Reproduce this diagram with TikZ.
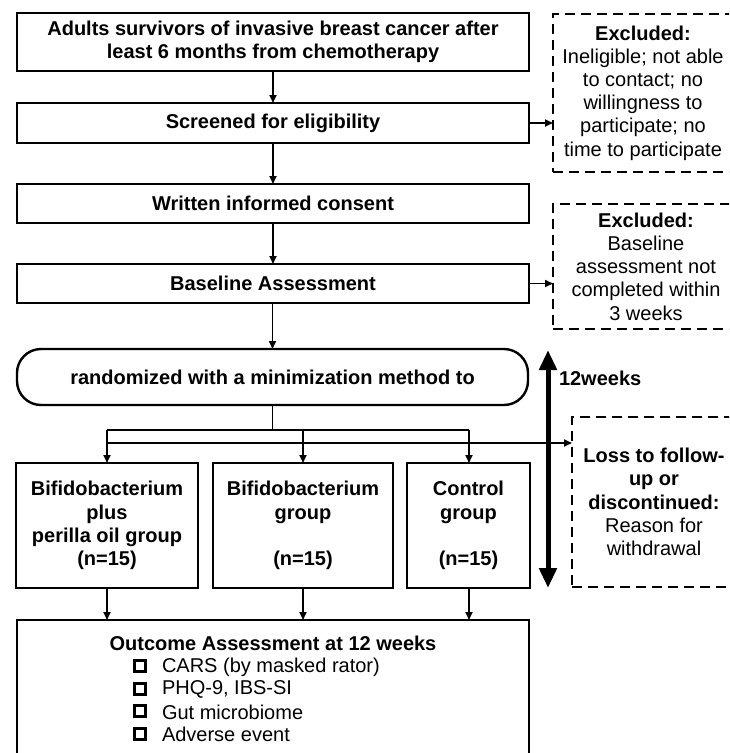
\documentclass[tikz,border=0pt]{standalone}
\usepackage{fontspec}
\setmainfont{Liberation Sans}
\usetikzlibrary{arrows.meta}
\begin{document}
\begin{tikzpicture}[x=1pt,y=-1pt,
  every node/.style={inner sep=0pt,outer sep=0pt,font=\fontsize{20}{23.2}\selectfont},
  solidbox/.style={draw,line width=2.4pt,rectangle,align=center,font=\fontsize{20}{23.2}\selectfont\bfseries},
  dashbox/.style={draw,line width=2.2pt,rectangle,align=center,dash pattern=on 10pt off 6pt},
  conn/.style={line width=1.7pt,-{Triangle[width=7pt,length=8pt]}},
  plainline/.style={line width=1.7pt},
  bigarrow/.style={line width=5pt,{Triangle[width=17pt,length=20pt]}-{Triangle[width=17pt,length=20pt]}},
  chk/.style={draw,line width=3pt,rectangle,minimum size=11pt}
]
\clip (0,0) rectangle (729,753);
% main column
\node[solidbox,minimum width=512pt,minimum height=58pt] (b1) at (273,42) {Adults survivors of invasive breast cancer after\\least 6 months from chemotherapy};
\node[solidbox,minimum width=512pt,minimum height=40pt] (b2) at (273,123) {Screened for eligibility};
\node[solidbox,minimum width=512pt,minimum height=39pt] (b3) at (273,203.5) {Written informed consent};
\node[solidbox,minimum width=512pt,minimum height=39pt] (b4) at (273,283.5) {Baseline Assessment};
\node[solidbox,rounded corners=24pt,minimum width=511pt,minimum height=56pt] (r) at (272.5,377) {randomized with a minimization method to};
% groups
\node[solidbox,minimum width=182pt,minimum height=125pt] (gA) at (107,525.5) {Bifidobacterium\\plus\\perilla oil group\\(n=15)};
\node[solidbox,minimum width=180pt,minimum height=125pt] (gB) at (303,525.5) {Bifidobacterium\\group\\~\\(n=15)};
\node[solidbox,minimum width=123pt,minimum height=125pt] (gC) at (468.5,525.5) {Control\\group\\~\\(n=15)};
% outcome
\node[draw,line width=2.4pt,rectangle,minimum width=512pt,minimum height=160pt] (out) at (273,700) {};
\node[font=\fontsize{20}{23.2}\selectfont\bfseries] (ot) at (273,643) {Outcome Assessment at 12 weeks};
\node[chk] (c1) at (140,666) {};
\node[chk] (c2) at (140,688.5) {};
\node[chk] (c3) at (140,711) {};
\node[chk] (c4) at (140,733.5) {};
\node[anchor=west] (t1) at (162,667) {CARS (by masked rator)};
\node[anchor=west] (t2) at (162,689.5) {PHQ-9, IBS-SI};
\node[anchor=west] (t3) at (162,712) {Gut microbiome};
\node[anchor=west] (t4) at (162,734.5) {Adverse event};
% dashed boxes
\node[dashbox,minimum width=180pt,minimum height=158pt] (d1) at (643,93) {\textbf{Excluded:}\\Ineligible; not able\\to contact; no\\willingness to\\participate; no\\time to participate};
\node[dashbox,minimum width=186pt,minimum height=125pt] (d2) at (646,266.5) {\textbf{Excluded:}\\Baseline\\assessment not\\completed within\\3 weeks};
\node[dashbox,minimum width=164pt,minimum height=170pt] (d3) at (654,502) {\textbf{Loss to follow-}\\\textbf{up or}\\\textbf{discontinued:}\\Reason for\\withdrawal};
% 12 weeks
\coordinate (tT) at (548,350);
\coordinate (tB) at (548,588);
\draw[bigarrow] (tB) -- (tT);
\node[anchor=west,font=\fontsize{20}{23.2}\selectfont\bfseries] (wk) at (559,378) {12weeks};
% connectors
\draw[conn] (b1) -- (b2);
\draw[conn] (b2) -- (b3);
\draw[conn] (b3) -- (b4);
\draw[conn] (b4.south -| r.north) -- (r.north);
\draw[conn] (b2.east) -- (b2.east -| d1.west);
\draw[conn] (b4.east) -- (b4.east -| d2.west);
\coordinate (jL) at (107,430);
\coordinate (jR) at (469,430);
\coordinate (kL) at (107,443);
\draw[plainline] (r.south) -- (r.south |- jL);
\draw[plainline] (jL) -- (jR);
\draw[conn] (jL) -- (gA.north);
\draw[conn] (gB.north |- jL) -- (gB.north);
\draw[conn] (jR) -- (jR |- gC.north);
\draw[conn] (kL) -- (kL -| d3.west);
\draw[conn] (gA.south) -- (gA.south |- out.north);
\draw[conn] (gB.south) -- (gB.south |- out.north);
\draw[conn] (jR |- gC.south) -- (jR |- out.north);
\end{tikzpicture}
\end{document}
